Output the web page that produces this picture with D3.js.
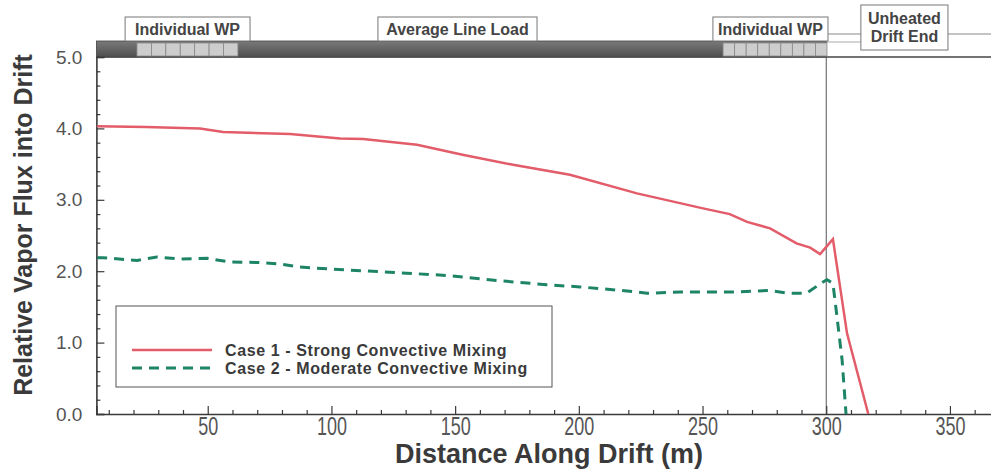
<!DOCTYPE html>
<html>
<head>
    <title>Relative Vapor Flux into Drift</title>
    <script src="https://cdn.jsdelivr.net/npm/d3@7/dist/d3.min.js" type="text/javascript"></script>
    <style type="text/css">
        body { margin: 0; background: #fff; }
        svg { display: block; font-family: "Liberation Sans", Arial, sans-serif; }
    </style>
</head>
<body>
<div id="chart"></div>
<script type="text/javascript">
    // data (distance in m, relative flux)
    var case1Dist = [5.3, 25, 46.9, 56.2, 83.3, 103.5, 112.8, 134.6, 153, 173.4, 196.4, 223.5, 250.2, 261, 268, 277.3, 288, 293.5, 297.5, 302.7, 308.4, 317];
    var case1Flux = [4.03, 4.02, 4.00, 3.95, 3.92, 3.86, 3.85, 3.77, 3.63, 3.49, 3.35, 3.09, 2.88, 2.80, 2.69, 2.60, 2.39, 2.33, 2.24, 2.45, 1.13, 0.0];
    var case2Dist = [5.3, 7.7, 21.4, 29.5, 38.8, 49.7, 59, 72, 79, 87, 99.4, 126.5, 146.7, 167, 187, 200.5, 223.5, 227.6, 241, 264, 277, 285, 292, 298.7, 300.3, 302.7, 304, 306.4, 308];
    var case2Flux = [2.19, 2.19, 2.15, 2.20, 2.17, 2.18, 2.13, 2.12, 2.10, 2.06, 2.03, 1.98, 1.94, 1.87, 1.81, 1.78, 1.71, 1.69, 1.71, 1.71, 1.73, 1.69, 1.69, 1.85, 1.88, 1.83, 1.46, 0.76, 0.0];
    var seriesNames = ["Case 1 - Strong Convective Mixing", "Case 2 - Moderate Convective Mixing"];
    var xTicks = [50, 100, 150, 200, 250, 300, 350];
    var yTicks = [0, 1, 2, 3, 4, 5];
    var heatedEnd = 300;
    // waste package spans along the drift [start, end, cells]
    var wpSpans = [[21.4, 62.2, 7], [258.3, 300.3, 9]];
    var zoneLabels = ["Individual WP", "Average Line Load", "Individual WP", "Unheated|Drift End"];
    var zoneSpans = [[16.6, 67.1], [118.8, 183.1], [254.2, 300.7], [314, 349.2]];

    var W = 991, H = 469;
    var svg = d3.select('#chart').append('svg')
        .attr('width', W).attr('height', H);

    var x = d3.scaleLinear().domain([5, 367]).range([96.4, 992]);
    var y = d3.scaleLinear().domain([0, 5]).range([414, 57]);
    var xLeft = x(5), yBottom = y(0), yTop = y(5);

    var red = '#e25c69', green = '#1e8466', ink = '#3a3a3a';

    // top bar (heated section)
    svg.append('line').attr('x1', xLeft).attr('x2', W).attr('y1', yTop).attr('y2', yTop)
        .attr('stroke', '#444').attr('stroke-width', 1.5);
    svg.append('line').attr('x1', x(heatedEnd)).attr('x2', W).attr('y1', 34).attr('y2', 34)
        .attr('stroke', '#888').attr('stroke-width', 1);
    svg.append('line').attr('x1', x(heatedEnd)).attr('x2', 875).attr('y1', 42).attr('y2', 42)
        .attr('stroke', '#aaa').attr('stroke-width', 1);

    var grad = svg.append('defs').append('linearGradient').attr('id', 'bar')
        .attr('x1', 0).attr('x2', 0).attr('y1', 0).attr('y2', 1);
    grad.append('stop').attr('offset', '0').attr('stop-color', '#7a7a7a');
    grad.append('stop').attr('offset', '1').attr('stop-color', '#4e4e4e');
    svg.append('rect').attr('x', xLeft).attr('y', 41)
        .attr('width', x(heatedEnd) - xLeft).attr('height', yTop - 41)
        .attr('fill', 'url(#bar)').attr('stroke', '#444').attr('stroke-width', 0.8);

    wpSpans.forEach(function(s) {
        var cw = (x(s[1]) - x(s[0])) / s[2];
        for (var i = 0; i < s[2]; i++) {
            svg.append('rect').attr('x', x(s[0]) + i * cw).attr('y', 43)
                .attr('width', cw).attr('height', 13)
                .attr('fill', '#cdcdcd').attr('stroke', '#8a8a8a').attr('stroke-width', 0.8);
        }
    });

    // zone label boxes
    zoneLabels.forEach(function(t, i) {
        var lines = t.split('|');
        var x0 = x(zoneSpans[i][0]), x1 = x(zoneSpans[i][1]);
        var y0 = lines.length > 1 ? 5 : 17, y1 = lines.length > 1 ? 50 : 41;
        svg.append('rect').attr('x', x0).attr('y', y0).attr('width', x1 - x0).attr('height', y1 - y0)
            .attr('fill', '#fff').attr('stroke', '#777').attr('stroke-width', 1);
        lines.forEach(function(l, j) {
            svg.append('text').attr('x', (x0 + x1) / 2)
                .attr('y', lines.length > 1 ? 24 + j * 18 : 35)
                .attr('text-anchor', 'middle').attr('font-size', 16).attr('font-weight', 'bold')
                .attr('fill', '#444').text(l);
        });
    });

    // end of heated section
    svg.append('line').attr('x1', x(heatedEnd)).attr('x2', x(heatedEnd))
        .attr('y1', yTop).attr('y2', yBottom).attr('stroke', '#555').attr('stroke-width', 1);

    // axes
    var xAxis = svg.append('g').attr('transform', 'translate(0,' + yBottom + ')')
        .call(d3.axisBottom(x).tickValues(xTicks).tickSize(-8).tickPadding(3).tickFormat(d3.format('d')));
    svg.append('g').attr('transform', 'translate(0,' + yBottom + ')')
        .call(d3.axisBottom(x).tickValues(d3.range(10, 370, 10).filter(function(v) { return v % 50; }))
            .tickSize(-4).tickFormat(''))
        .call(function(g) { g.select('.domain').remove(); });
    var yAxis = svg.append('g').attr('transform', 'translate(' + xLeft + ',0)')
        .call(d3.axisLeft(y).tickValues(yTicks).tickSize(-8).tickPadding(14).tickFormat(d3.format('.1f')));
    svg.append('g').attr('transform', 'translate(' + xLeft + ',0)')
        .call(d3.axisLeft(y).tickValues(d3.range(0.2, 5, 0.2).filter(function(v) { return Math.abs(v - Math.round(v)) > 0.01; }))
            .tickSize(-4).tickFormat(''))
        .call(function(g) { g.select('.domain').remove(); });

    svg.selectAll('.domain').attr('stroke', ink).attr('stroke-width', 1.6);
    svg.selectAll('.tick line').attr('stroke', ink).attr('stroke-width', 1.2);
    svg.selectAll('.tick text').style('font-family', null);
    xAxis.selectAll('text').attr('font-size', 25).attr('fill', '#555')
        .attr('transform', 'scale(0.72,1)');
    yAxis.selectAll('text').attr('font-size', 19).attr('fill', '#555');

    svg.append('text').attr('x', 549).attr('y', 463)
        .attr('text-anchor', 'middle').attr('font-size', 27).attr('font-weight', 'bold')
        .attr('fill', ink).text('Distance Along Drift  (m)');
    svg.append('text').attr('transform', 'translate(32,225) rotate(-90)')
        .attr('text-anchor', 'middle').attr('font-size', 25).attr('font-weight', 'bold')
        .attr('fill', ink).text('Relative Vapor Flux into Drift');

    // curves
    var line = d3.line().x(function(d) { return x(d[0]); }).y(function(d) { return y(d[1]); });
    svg.append('path').datum(d3.zip(case2Dist, case2Flux)).attr('d', line)
        .attr('fill', 'none').attr('stroke', green).attr('stroke-width', 3)
        .attr('stroke-dasharray', '10,7');
    svg.append('path').datum(d3.zip(case1Dist, case1Flux)).attr('d', line)
        .attr('fill', 'none').attr('stroke', red).attr('stroke-width', 2.5);

    // legend
    var lg = svg.append('g');
    lg.append('rect').attr('x', 116).attr('y', 306).attr('width', 436).attr('height', 81)
        .attr('fill', '#fff').attr('stroke', '#555').attr('stroke-width', 1);
    [red, green].forEach(function(c, i) {
        var ly = 350 + i * 18;
        lg.append('line').attr('x1', 132).attr('x2', 212).attr('y1', ly).attr('y2', ly)
            .attr('stroke', c).attr('stroke-width', i ? 3 : 2.5)
            .attr('stroke-dasharray', i ? '10,7' : null);
        lg.append('text').attr('x', 225).attr('y', ly + 6).attr('font-size', 16)
            .attr('letter-spacing', 0.6)
            .attr('font-weight', 'bold').attr('fill', ink).text(seriesNames[i]);
    });
</script>
</body>
</html>
